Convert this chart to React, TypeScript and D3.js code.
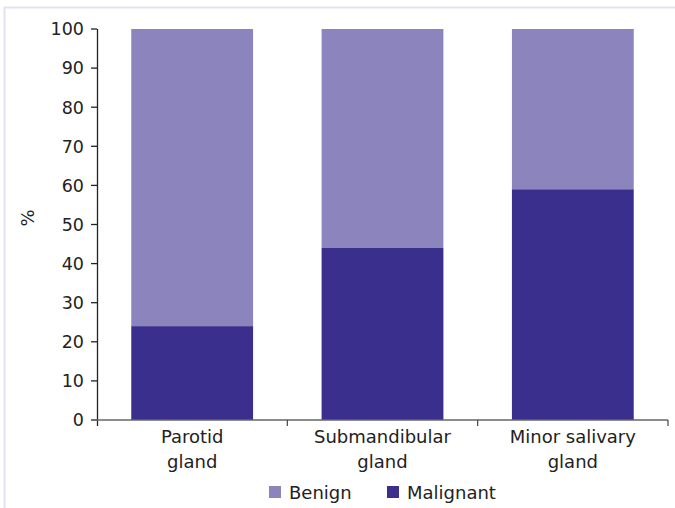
import * as d3 from "d3";

// Share of tumours by site (%)
const categories = ["Parotid gland", "Submandibular gland", "Minor salivary gland"];
const malignant = [24, 44, 59];
const benign = [76, 56, 41];
const yTicks = [0, 10, 20, 30, 40, 50, 60, 70, 80, 90, 100];
const seriesNames = ["Benign", "Malignant"];

const BENIGN = "#8c84bd";
const MALIGNANT = "#3a2f8d";
const FONT = "Verdana, 'DejaVu Sans', sans-serif";

export default function App() {
  const width = 675;
  const height = 508;
  const margin = { top: 29, right: 7, bottom: 88, left: 97 };
  const innerW = width - margin.left - margin.right;
  const innerH = height - margin.top - margin.bottom;

  const x = d3
    .scaleBand<string>()
    .domain(categories)
    .range([0, innerW])
    .paddingInner(0.36)
    .paddingOuter(0.18);

  const y = d3.scaleLinear().domain([0, 100]).range([innerH, 0]);

  const step = x.step();
  const stack = categories.map((c, i) => ({
    cat: c,
    m: malignant[i],
    b: benign[i],
  }));

  return (
    <svg
      width={width}
      height={height}
      style={{ position: "absolute", left: 0, top: 0, background: "#fff" }}
      fontFamily={FONT}
    >
      {/* outer frame (top & left visible) */}
      <line x1={4} x2={width} y1={7.5} y2={7.5} stroke="#e4e2f2" strokeWidth={2} />
      <line x1={4.5} x2={4.5} y1={7} y2={height} stroke="#e4e2f2" strokeWidth={2} />

      <g transform={`translate(${margin.left},${margin.top})`}>
        {/* bars */}
        {stack.map((d) => (
          <g key={d.cat}>
            <rect
              x={x(d.cat)}
              width={x.bandwidth()}
              y={y(d.m + d.b)}
              height={y(d.m) - y(d.m + d.b)}
              fill={BENIGN}
            />
            <rect
              x={x(d.cat)}
              width={x.bandwidth()}
              y={y(d.m)}
              height={innerH - y(d.m)}
              fill={MALIGNANT}
            />
          </g>
        ))}

        {/* y axis */}
        <line x1={0.5} x2={0.5} y1={y(100)} y2={innerH + 6} stroke="#222" strokeWidth={1.3} />
        {yTicks.map((t) => (
          <g key={t} transform={`translate(0,${y(t)})`}>
            <line x1={-6} x2={0} stroke="#222" strokeWidth={1.3} />
            <text x={-13} dy="0.36em" textAnchor="end" fontSize={17.5} fill="#222">
              {t}
            </text>
          </g>
        ))}

        {/* x axis */}
        <line x1={0} x2={innerW} y1={innerH} y2={innerH} stroke="#666" strokeWidth={1.5} />
        {categories.map((c, i) => (
          <line
            key={c}
            x1={step * (i + 1)}
            x2={step * (i + 1)}
            y1={innerH}
            y2={innerH + 6}
            stroke="#444"
            strokeWidth={1.2}
          />
        ))}
        {categories.map((c) => {
          const words = c.split(" ");
          const last = words.pop();
          const cx = (x(c) ?? 0) + x.bandwidth() / 2;
          return (
            <text key={c} x={cx} y={innerH + 23} textAnchor="middle" fontSize={18} fill="#222">
              <tspan x={cx}>{words.join(" ")}</tspan>
              <tspan x={cx} dy={25}>
                {last}
              </tspan>
            </text>
          );
        })}
      </g>

      {/* y label */}
      <text
        transform="translate(34,218) rotate(-90)"
        textAnchor="middle"
        fontSize={18}
        fill="#222"
      >
        %
      </text>

      {/* legend */}
      {seriesNames.map((s, i) => (
        <g key={s} transform={`translate(${269 + i * 118},${486})`}>
          <rect width={12} height={12} fill={i === 0 ? BENIGN : MALIGNANT} />
          <text x={20} y={13} fontSize={18} fill="#222">
            {s}
          </text>
        </g>
      ))}
    </svg>
  );
}
